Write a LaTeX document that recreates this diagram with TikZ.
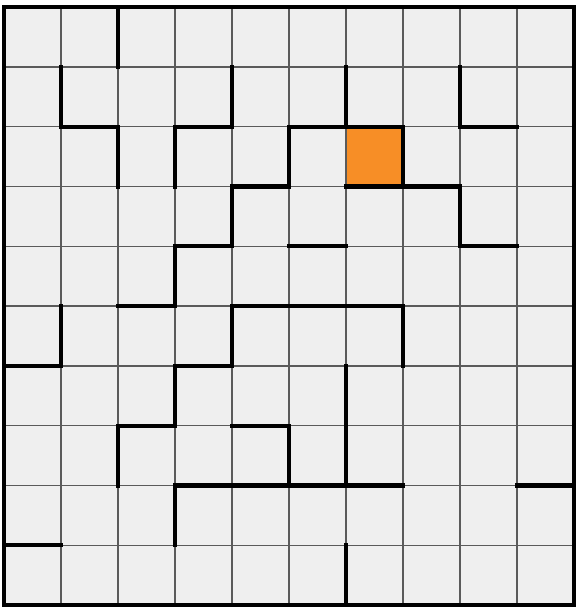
\documentclass[tikz,border=0pt]{standalone}
\begin{document}
\begin{tikzpicture}[x=28.5pt,y=-29.9pt,
  cellfill/.style={fill=cellgray},
  gridline/.style={draw=gridgray,line width=0.7pt},
  wall/.style={draw=black,line width=2.1pt,line cap=rect},
  border/.style={draw=black,line width=2.2pt}]
\definecolor{cellgray}{RGB}{239,239,239}
\definecolor{gridgray}{RGB}{90,90,90}
\definecolor{goal}{RGB}{247,142,38}
\useasboundingbox (-4/57,-7/59.8) rectangle (572/57,600/59.8);
\fill[white] (-4/57,-7/59.8) rectangle (572/57,600/59.8);
\fill[cellgray] (0,0) rectangle (10,10);
\fill[goal] (6,2) rectangle (7,3);
\foreach \i in {1,...,9} {
  \draw[gridline] (\i,0) -- (\i,10);
  \draw[gridline] (0,\i) -- (10,\i);
}
% vertical walls
\foreach \x/\a/\b in {2/0/1, 1/1/2, 4/1/2, 6/1/2, 8/1/2, 2/2/3, 3/2/3, 5/2/3, 7/2/3,
  4/3/4, 8/3/4, 3/4/5, 1/5/6, 4/5/6, 7/5/6, 3/6/7, 6/6/8, 2/7/8, 5/7/8, 3/8/9, 6/9/10}
  \draw[wall] (\x,\a) -- (\x,\b);
% horizontal walls
\foreach \y/\a/\b in {2/1/2, 2/3/4, 2/5/7, 2/8/9, 3/4/5, 3/6/8, 4/3/4, 4/5/6, 4/8/9,
  5/2/3, 5/4/7, 6/0/1, 6/3/4, 7/2/3, 7/4/5, 8/3/7, 8/9/10, 9/0/1}
  \draw[wall] (\a,\y) -- (\b,\y);
\draw[border] (0,0) rectangle (10,10);
\end{tikzpicture}
\end{document}
